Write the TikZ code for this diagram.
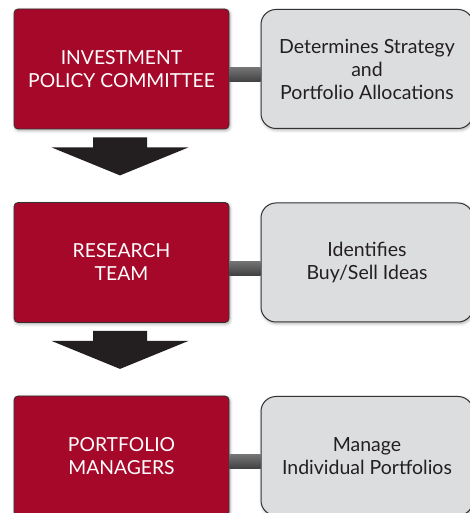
\documentclass[tikz,border=0pt]{standalone}
\usepackage{fontspec}
\setmainfont{Lato}
\usetikzlibrary{positioning,shadows.blur}
\definecolor{boxred}{HTML}{A6082A}
\definecolor{boxgrey}{HTML}{DCDDDF}
\definecolor{edgegrey}{HTML}{333333}
\definecolor{arrowgrey}{HTML}{231F20}

\begin{document}
\begin{tikzpicture}
	[x=1pt, y=1pt, node distance={193.5pt},
	 role/.style = {draw=edgegrey, fill=boxred, text=white, rounded corners=4pt, line width=0.8pt,
	   minimum width=215pt, minimum height=120pt, align=center, font=\fontsize{19.3}{23}\selectfont,
	   blur shadow={shadow xshift=1pt, shadow yshift=-1.5pt, shadow blur radius=3pt, shadow opacity=35}},
	 duty/.style = {draw=edgegrey, fill=boxgrey, text=arrowgrey, rounded corners=15pt, line width=1pt,
	   minimum width=212pt, minimum height=119pt, align=center, font=\fontsize{19.5}{23}\selectfont,
	   blur shadow={shadow xshift=1pt, shadow yshift=-1.5pt, shadow blur radius=3pt, shadow opacity=35}},
	 bar/.style = {top color=black!55, middle color=black!15, bottom color=black!75},
	 bigarrow/.style = {fill=arrowgrey}]
	\useasboundingbox (0,0) rectangle (470,513);
	\node[role] (1) at (121.5,444) {INVESTMENT\\POLICY COMMITTEE};
	\node[role] (2) [below of = 1] {RESEARCH\\TEAM};
	\node[role] (3) [below of = 2] {PORTFOLIO\\MANAGERS};
	\node[duty] (4) [right of = 1, node distance={245.5pt}] {Determines Strategy\\and\\Portfolio Allocations};
	\node[duty] (5) [right of = 2, node distance={245.5pt}] {Identifies\\Buy/Sell Ideas};
	\node[duty] (6) [right of = 3, node distance={245.5pt}] {Manage\\Individual Portfolios};
	\shade[bar] ([yshift=1pt]1.east) rectangle ([yshift=-13pt]4.west);
	\shade[bar] ([yshift=1pt]2.east) rectangle ([yshift=-13pt]5.west);
	\shade[bar] ([yshift=1pt]3.east) rectangle ([yshift=-13pt]6.west);
	\coordinate (a1) at ([xshift=-1.5pt, yshift=-8pt]1.south);
	\coordinate (a2) at ([xshift=-1.5pt, yshift=-8pt]2.south);
	\fill[bigarrow, shift={(a1)}] (-27,0) -- (27,0) -- (27,-10) -- (68.5,-10) -- (0,-38) -- (-68.5,-10) -- (-27,-10) -- cycle;
	\fill[bigarrow, shift={(a2)}] (-27,0) -- (27,0) -- (27,-10) -- (68.5,-10) -- (0,-38) -- (-68.5,-10) -- (-27,-10) -- cycle;
\end{tikzpicture}
\end{document}
